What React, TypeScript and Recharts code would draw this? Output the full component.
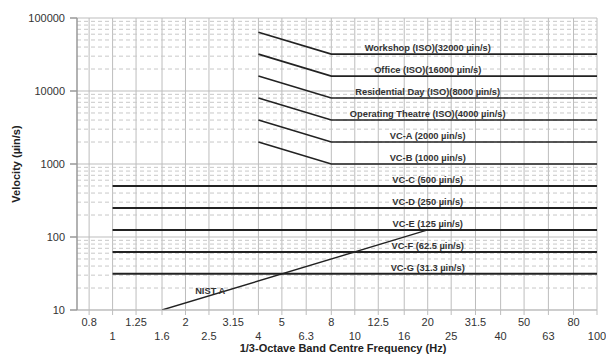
import React from "react";
import {
  LineChart,
  Line,
  XAxis,
  YAxis,
  CartesianGrid,
  ReferenceLine,
  ReferenceDot,
} from "recharts";

// 1/3-octave band centre frequencies (Hz)
const BANDS = [
  0.8, 1, 1.25, 1.6, 2, 2.5, 3.15, 4, 5, 6.3, 8, 10, 12.5, 16, 20, 25, 31.5, 40,
  50, 63, 80, 100,
];

const DECADES = [10, 100, 1000, 10000, 100000];
const MINOR = [10, 100, 1000, 10000].flatMap((d) =>
  [2, 3, 4, 5, 6, 7, 8, 9].map((m) => m * d)
);

// ISO curves: slope from 4 Hz to 8 Hz, then flat to 100 Hz
const ISO_LABELS = [
  "Workshop (ISO)(32000 µin/s)",
  "Office (ISO)(16000 µin/s)",
  "Residential Day (ISO)(8000 µin/s)",
  "Operating Theatre (ISO)(4000 µin/s)",
  "VC-A (2000 µin/s)",
  "VC-B (1000 µin/s)",
];
const ISO_AT_4HZ = [64000, 32000, 16000, 8000, 4000, 2000];
const ISO_FLAT = [32000, 16000, 8000, 4000, 2000, 1000];

// VC curves: flat from 1 Hz to 100 Hz
const VC_LABELS = [
  "VC-C (500 µin/s)",
  "VC-D (250 µin/s)",
  "VC-E (125 µin/s)",
  "VC-F (62.5 µin/s)",
  "VC-G (31.3 µin/s)",
];
const VC_FLAT = [500, 250, 125, 62.5, 31.3];

const NIST_F = [1.6, 20, 100];
const NIST_V = [10, 125, 125];

const FONT = "'Liberation Sans', Arial, sans-serif";
const INK = "#222";
const GRID = "#bdbdbd";

const isoSeries = ISO_FLAT.map((v, i) => [
  { f: 4, v: ISO_AT_4HZ[i] },
  { f: 8, v },
  { f: 100, v },
]);
const vcSeries = VC_FLAT.map((v) => [
  { f: 1, v },
  { f: 100, v },
]);
const nistSeries = NIST_F.map((f, i) => ({ f, v: NIST_V[i] }));

function FreqTick(props: any) {
  const { x, y, payload } = props;
  const idx = BANDS.indexOf(payload.value);
  const dy = idx % 2 === 0 ? 9 : 23;
  return (
    <text
      x={x}
      y={y + dy}
      textAnchor="middle"
      fontSize={11}
      fontFamily={FONT}
      fill="#333"
    >
      {payload.value}
    </text>
  );
}

const labelStyle = {
  fontSize: 9.3,
  fontWeight: 700,
  fontFamily: FONT,
  fill: "#333",
};

export default function App() {
  return (
    <div style={{ position: "absolute", left: 0, top: 0, background: "#fff" }}>
      <LineChart
        width={606}
        height={354}
        margin={{ top: 18, right: 9, bottom: 0, left: 0 }}
      >
        <CartesianGrid
          stroke={GRID}
          horizontalValues={DECADES}
          verticalValues={BANDS}
        />
        {MINOR.map((m) => (
          <ReferenceLine
            key={m}
            y={m}
            stroke="#c8c8c8"
            strokeDasharray="4 3"
            strokeWidth={1}
          />
        ))}
        <XAxis
          type="number"
          dataKey="f"
          scale="log"
          domain={[0.713, 100]}
          allowDataOverflow
          ticks={BANDS}
          interval={0}
          tick={<FreqTick />}
          tickSize={5}
          stroke={GRID}
          height={44}
          label={{
            value: "1/3-Octave Band Centre Frequency (Hz)",
            position: "insideBottom",
            offset: 2,
            dx: 6,
            style: { fontSize: 11, fontWeight: 700, fontFamily: FONT, fill: INK },
          }}
        />
        <YAxis
          type="number"
          dataKey="v"
          scale="log"
          domain={[10, 100000]}
          allowDataOverflow
          ticks={DECADES}
          interval={0}
          width={77}
          tickSize={7}
          tickMargin={5}
          stroke="#999"
          strokeWidth={1.5}
          tick={{ fontSize: 11, fontFamily: FONT, fill: "#333" }}
          label={{
            value: "Velocity (µin/s)",
            angle: -90,
            position: "insideLeft",
            offset: 16,
            style: {
              fontSize: 11,
              fontWeight: 700,
              fontFamily: FONT,
              fill: INK,
              textAnchor: "middle",
            },
          }}
        />
        {isoSeries.map((d, i) => (
          <Line
            key={ISO_LABELS[i]}
            data={d}
            dataKey="v"
            type="linear"
            stroke={INK}
            strokeWidth={1.6}
            dot={false}
            isAnimationActive={false}
          />
        ))}
        {vcSeries.map((d, i) => (
          <Line
            key={VC_LABELS[i]}
            data={d}
            dataKey="v"
            type="linear"
            stroke={INK}
            strokeWidth={2}
            dot={false}
            isAnimationActive={false}
          />
        ))}
        <Line
          data={nistSeries}
          dataKey="v"
          type="linear"
          stroke={INK}
          strokeWidth={1.4}
          dot={false}
          isAnimationActive={false}
        />
        {ISO_FLAT.map((v, i) => (
          <ReferenceDot
            key={"l" + i}
            x={20}
            y={v}
            r={0}
            fill="none"
            stroke="none"
            label={{ value: ISO_LABELS[i], position: "top", offset: 3, style: labelStyle }}
          />
        ))}
        {VC_FLAT.map((v, i) => (
          <ReferenceDot
            key={"v" + i}
            x={20}
            y={v}
            r={0}
            fill="none"
            stroke="none"
            label={{ value: VC_LABELS[i], position: "top", offset: 3, style: labelStyle }}
          />
        ))}
        <ReferenceDot
          x={2.53}
          y={18.2}
          r={0}
          fill="none"
          stroke="none"
          label={{ value: "NIST A", position: "center", style: labelStyle }}
        />
      </LineChart>
    </div>
  );
}
